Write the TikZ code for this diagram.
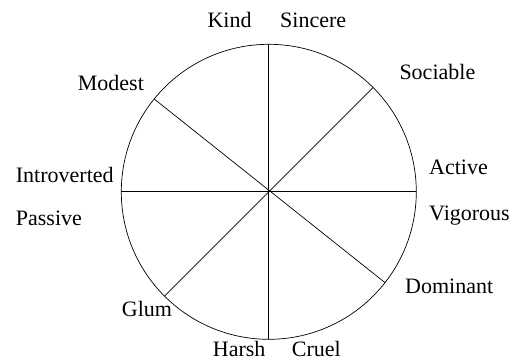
\documentclass[tikz,border=0pt]{standalone}
\usepackage{fontspec}
\setmainfont{Liberation Serif}
\begin{document}
\begin{tikzpicture}[x=1pt,y=-1pt,
  lbl/.style={anchor=base west,inner sep=0pt,font=\fontsize{22}{26}\selectfont},
  ln/.style={line width=0.7pt}]
\useasboundingbox (0,0) rectangle (523,360);
\node[circle,draw,ln,minimum size=295pt,inner sep=0pt,outer sep=0pt] (c) at (268.8,191.8) {};
\draw[ln] (c.90) -- (c.270);
\draw[ln] (c.0) -- (c.180);
\draw[ln] (c.45) -- (c.225);
\draw[ln] (c.141.4) -- (c.-38.6);
\node[lbl] (kind) at (207.3,27.7) {Kind};
\node[lbl] (sincere) at (280,27.7) {Sincere};
\node[lbl] (sociable) at (399.3,79) {Sociable};
\node[lbl] (modest) at (77.7,90.7) {Modest};
\node[lbl] (introverted) at (15.7,182.3) {Introverted};
\node[lbl] (passive) at (15.7,225.7) {Passive};
\node[lbl] (active) at (429,174.3) {Active};
\node[lbl] (vigorous) at (429,220.7) {Vigorous};
\node[lbl] (dominant) at (405,293.3) {Dominant};
\node[lbl] (glum) at (121.7,316) {Glum};
\node[lbl] (harsh) at (212.7,356.7) {Harsh};
\node[lbl] (cruel) at (291.7,356) {Cruel};
\end{tikzpicture}
\end{document}
